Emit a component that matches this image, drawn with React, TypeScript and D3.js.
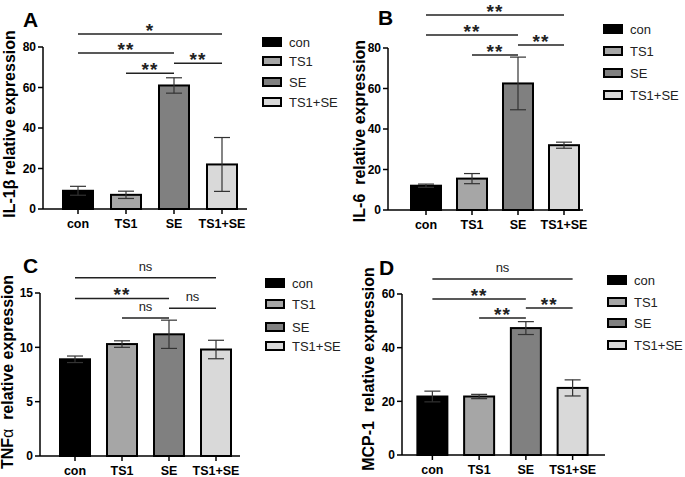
import * as d3 from 'd3';

const groups = ['con', 'TS1', 'SE', 'TS1+SE'];
const fills = ['#000000', '#a6a6a6', '#808080', '#d9d9d9'];

// mean and SD for each panel
const il1bMean = [9, 7, 61, 22];
const il1bErr = [2.2, 1.8, 3.8, 13.3];
const il6Mean = [12, 15.5, 62.5, 32];
const il6Err = [0.8, 2.5, 13, 1.5];
const tnfMean = [8.9, 10.3, 11.2, 9.8];
const tnfErr = [0.3, 0.3, 1.3, 0.85];
const mcpMean = [21.8, 21.8, 47.3, 25];
const mcpErr = [2, 0.8, 2.4, 3];

// significance brackets: [from, to, level (data units), label]
const il1bSig: [number, number, number, string][] = [[0, 3, 86.4, '*'], [0, 2, 77, '**'], [2, 3, 72, '**'], [1, 2, 67, '**']];
const il6Sig: [number, number, number, string][] = [[0, 3, 96.3, '**'], [0, 2, 86.4, '**'], [2, 3, 81.5, '**'], [1, 2, 76.5, '**']];
const tnfSig: [number, number, number, string][] = [[0, 3, 16.4, 'ns'], [0, 2, 14.5, '**'], [2, 3, 13.6, 'ns'], [1, 2, 12.7, 'ns']];
const mcpSig: [number, number, number, string][] = [[0, 3, 65.6, 'ns'], [0, 2, 58.1, '**'], [2, 3, 54.8, '**'], [1, 2, 51.1, '**']];

const il1bTicks = [0, 20, 40, 60, 80];
const il6Ticks = [0, 20, 40, 60, 80];
const tnfTicks = [0, 5, 10, 15];
const mcpTicks = [0, 20, 40, 60];

type PanelProps = {
  letter: string;
  letterX: number; letterY: number;
  label: React.ReactNode;
  labelX: number; labelY: number;
  axisX: number; axisEnd: number;
  y0: number; yTop: number; yMax: number;
  ptA: number; ptB: number;
  means: number[]; errs: number[];
  ticks: number[];
  sig: [number, number, number, string][];
  legX: number; legY: number[];
};

const font = 'Liberation Sans, Arial, Helvetica, sans-serif';

function Panel(p: PanelProps) {
  const x = d3.scalePoint<string>().domain(groups).range([p.ptA, p.ptB]).padding(0.5);
  const y = d3.scaleLinear().domain([0, p.yMax]).range([p.y0, p.yTop]);
  const bw = 30;
  const cap = 8;
  return (
    <g fontFamily={font}>
      <text x={p.letterX} y={p.letterY} fontSize={21} fontWeight="bold">{p.letter}</text>
      <text transform={`translate(${p.labelX},${p.labelY}) rotate(-90)`} textAnchor="middle"
        fontSize={16} fontWeight="bold" dominantBaseline="middle" style={{ whiteSpace: 'pre' }}>{p.label}</text>
      {groups.map((g, i) => {
        const cx = x(g)!;
        return (
          <g key={g}>
            <rect x={cx - bw / 2} y={y(p.means[i])} width={bw} height={p.y0 - y(p.means[i])}
              fill={fills[i]} stroke="#000" strokeWidth={2} />
            <line x1={cx} x2={cx} y1={y(p.means[i] + p.errs[i])} y2={y(p.means[i] - p.errs[i])} stroke="#333" strokeWidth={1.2} />
            <line x1={cx - cap} x2={cx + cap} y1={y(p.means[i] + p.errs[i])} y2={y(p.means[i] + p.errs[i])} stroke="#333" strokeWidth={1.2} />
            <line x1={cx - cap} x2={cx + cap} y1={y(p.means[i] - p.errs[i])} y2={y(p.means[i] - p.errs[i])} stroke="#333" strokeWidth={1.2} />
            <line x1={cx} x2={cx} y1={p.y0} y2={p.y0 + 5} stroke="#000" strokeWidth={1.5} />
            <text x={cx} y={p.y0 + 19} textAnchor="middle" fontSize={12.5} fontWeight="bold">{g}</text>
          </g>
        );
      })}
      <line x1={p.axisX} x2={p.axisX} y1={y(p.ticks[p.ticks.length - 1])} y2={p.y0} stroke="#000" strokeWidth={1.5} />
      <line x1={p.axisX} x2={p.axisEnd} y1={p.y0} y2={p.y0} stroke="#000" strokeWidth={1.5} />
      {p.ticks.map(t => (
        <g key={t}>
          <line x1={p.axisX - 5} x2={p.axisX} y1={y(t)} y2={y(t)} stroke="#000" strokeWidth={1.5} />
          <text x={p.axisX - 7} y={y(t)} dy="0.35em" textAnchor="end" fontSize={12} fontWeight="bold">{t}</text>
        </g>
      ))}
      {p.sig.map(([a, b, lvl, lab], i) => {
        const x1 = x(groups[a])!;
        const x2 = x(groups[b])!;
        const yy = y(lvl);
        return (
          <g key={i}>
            <line x1={x1} x2={x2} y1={yy} y2={yy} stroke="#222" strokeWidth={1.5} />
            {lab === 'ns'
              ? <text x={(x1 + x2) / 2} y={yy - 7} textAnchor="middle" fontSize={13} fill="#222">ns</text>
              : <text x={(x1 + x2) / 2} y={yy + 3} textAnchor="middle" fontSize={19} fontWeight="bold" letterSpacing={1} fill="#222">{lab}</text>}
          </g>
        );
      })}
      {groups.map((g, i) => (
        <g key={'l' + g}>
          <rect x={p.legX} y={p.legY[i] - 4} width={18} height={8} fill={fills[i]} stroke="#000" strokeWidth={2} />
          <text x={p.legX + 26} y={p.legY[i]} dy="0.35em" fontSize={13} fill="#222">{g}</text>
        </g>
      ))}
    </g>
  );
}

export default function App() {
  return (
    <svg width={685} height={477} style={{ position: 'absolute', left: 0, top: 0, background: '#fff' }}>
      <Panel letter="A" letterX={23} letterY={27}
        label={<tspan>IL-1β relative expression</tspan>} labelX={11} labelY={124}
        axisX={43} axisEnd={247} y0={209} yTop={47} yMax={80} ptA={54} ptB={246}
        means={il1bMean} errs={il1bErr} ticks={il1bTicks} sig={il1bSig}
        legX={263} legY={[42, 61, 82, 102]} />
      <Panel letter="B" letterX={378} letterY={25}
        label={<tspan>{'IL-6  relative expression'}</tspan>} labelX={361} labelY={131}
        axisX={388} axisEnd={583} y0={210} yTop={48} yMax={80} ptA={403} ptB={587}
        means={il6Mean} errs={il6Err} ticks={il6Ticks} sig={il6Sig}
        legX={604} legY={[29, 51, 73, 95]} />
      <Panel letter="C" letterX={23} letterY={273}
        label={<tspan>TNF<tspan fontWeight="normal">α</tspan>{'  relative expression'}</tspan>} labelX={9} labelY={372}
        axisX={40} axisEnd={240} y0={456} yTop={293} yMax={15} ptA={51.5} ptB={239.5}
        means={tnfMean} errs={tnfErr} ticks={tnfTicks} sig={tnfSig}
        legX={266} legY={[283, 304, 327, 346]} />
      <Panel letter="D" letterX={379} letterY={275}
        label={<tspan>{'MCP-1  relative expression'}</tspan>} labelX={370} labelY={369}
        axisX={402} axisEnd={605} y0={455} yTop={294} yMax={60} ptA={409} ptB={596}
        means={mcpMean} errs={mcpErr} ticks={mcpTicks} sig={mcpSig}
        legX={608} legY={[280, 302, 323, 345]} />
    </svg>
  );
}
